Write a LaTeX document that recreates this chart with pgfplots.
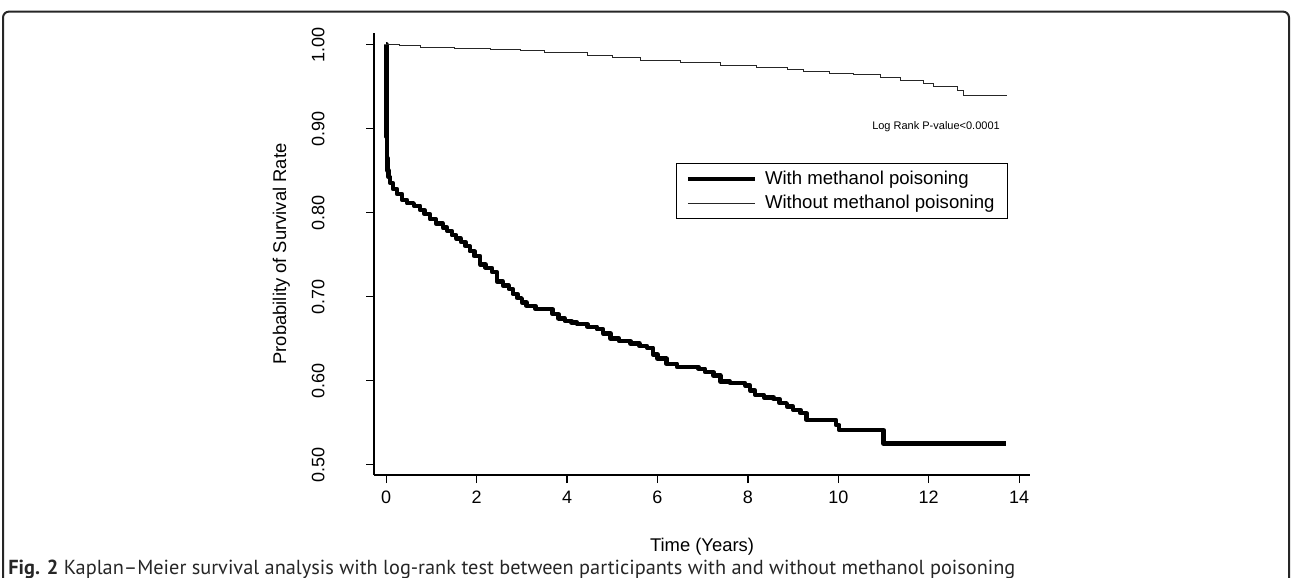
\documentclass[border=0pt]{standalone}
\usepackage{pgfplots}
\pgfplotsset{compat=1.18}
\usepackage{fontspec}
\usepackage{graphicx}
\setmainfont{Liberation Sans}
\newfontfamily\capfont{PT Sans}

% Kaplan-Meier estimates (time in years, survival)
\pgfplotstableread{
t S
0 1.000
0.003 0.960
0.006 0.920
0.010 0.890
0.015 0.865
0.025 0.850
0.05 0.842
0.09 0.835
0.15 0.828
0.24 0.822
0.35 0.815
0.46 0.811
0.61 0.808
0.75 0.803
0.85 0.798
0.97 0.792
1.10 0.787
1.25 0.782
1.35 0.778
1.45 0.773
1.55 0.769
1.65 0.765
1.75 0.760
1.85 0.754
1.95 0.748
2.08 0.738
2.20 0.734
2.34 0.729
2.45 0.718
2.58 0.713
2.71 0.709
2.80 0.703
2.90 0.698
3.00 0.693
3.10 0.689
3.30 0.685
3.68 0.679
3.81 0.674
3.95 0.671
4.10 0.669
4.22 0.667
4.45 0.664
4.66 0.661
4.80 0.656
4.96 0.650
5.15 0.647
5.40 0.644
5.60 0.641
5.77 0.639
5.90 0.631
6.00 0.626
6.20 0.620
6.43 0.616
6.91 0.614
7.05 0.610
7.24 0.606
7.39 0.599
7.60 0.597
7.94 0.594
8.05 0.588
8.16 0.583
8.35 0.580
8.57 0.578
8.70 0.573
8.86 0.569
9.00 0.565
9.16 0.561
9.30 0.553
9.95 0.547
10.02 0.541
11.00 0.525
13.70 0.525
}\withmeth

\pgfplotstableread{
t S
0 1.000
0.30 0.999
0.75 0.9965
1.50 0.995
2.30 0.994
2.96 0.9926
3.50 0.991
4.45 0.9875
5.00 0.985
5.62 0.9815
6.50 0.979
7.39 0.9756
8.20 0.973
8.87 0.9705
9.24 0.968
9.80 0.966
10.33 0.9637
10.93 0.961
11.37 0.9577
11.88 0.954
12.10 0.9506
12.63 0.9458
12.77 0.9387
13.74 0.9387
}\withoutmeth

\begin{document}
\begin{tikzpicture}
\path[use as bounding box] (0pt,0pt) rectangle (646pt,-289pt);
\draw[black!85, line width=1pt, rounded corners=3pt]
  (1.5pt,-289pt) -- (1.5pt,-5.8pt) -- (644.5pt,-5.8pt) -- (644.5pt,-289pt);

\begin{axis}[
  at={(187pt,-237.5pt)}, anchor=south west,
  scale only axis, width=328pt, height=221pt,
  xmin=-0.27, xmax=14.24, ymin=0.4875, ymax=1.0137,
  axis lines*=left,
  axis line style={line width=0.65pt, -},
  tick align=outside, major tick length=4pt,
  tick style={line width=0.65pt, black},
  xtick={0,2,4,6,8,10,12,14},
  ytick={0.5,0.6,0.7,0.8,0.9,1.0},
  /pgf/number format/assume math mode=true,
  every tick label/.append style={font=\fontsize{9}{11}\selectfont},
  xticklabel style={anchor=north, inner sep=0pt},
  xticklabel shift=4pt,
  yticklabel style={rotate=90, anchor=south, inner sep=0pt,
    /pgf/number format/.cd, fixed, fixed zerofill, precision=2},
  yticklabel shift=20.5pt,
  label style={font=\fontsize{9.2}{11}\selectfont, inner sep=0pt},
  xlabel={Time (Years)},
  xlabel style={at={(axis description cs:0.5,-0.172)}, anchor=base},
  ylabel={Probability of Survival Rate},
  ylabel style={at={(axis description cs:-0.1341,0.5)}, anchor=base},
  legend image code/.code={\draw[#1] (0pt,0pt) -- (33.5pt,0pt);
    \path (35.5pt,0pt);},
  legend style={at={(axis description cs:0.4604,0.706)}, anchor=north west,
    draw=black, line width=0.6pt, fill=white,
    inner xsep=4.5pt, inner ysep=1.5pt,
    font=\fontsize{9.3}{11}\selectfont, row sep=0pt},
  legend cell align=left,
]
\addplot[const plot, black, line width=2.2pt, line join=round] table[x=t, y=S] {\withmeth};
\addlegendentry{With methanol poisoning}
\addplot[const plot, black!85, line width=0.5pt] table[x=t, y=S] {\withoutmeth};
\addlegendentry{Without methanol poisoning}
\node[anchor=east, inner sep=0pt, font=\fontsize{5.5}{6}\selectfont]
  at (axis cs:13.58,0.902) {Log Rank P-value<0.0001};
\end{axis}

\node[anchor=base west, inner sep=0pt, text=black!85] at (4pt,-287.2pt)
  {\resizebox{503.5pt}{!}{\capfont\textbf{Fig. 2} Kaplan–Meier survival analysis with log-rank test between participants with and without methanol poisoning}};
\end{tikzpicture}
\end{document}
